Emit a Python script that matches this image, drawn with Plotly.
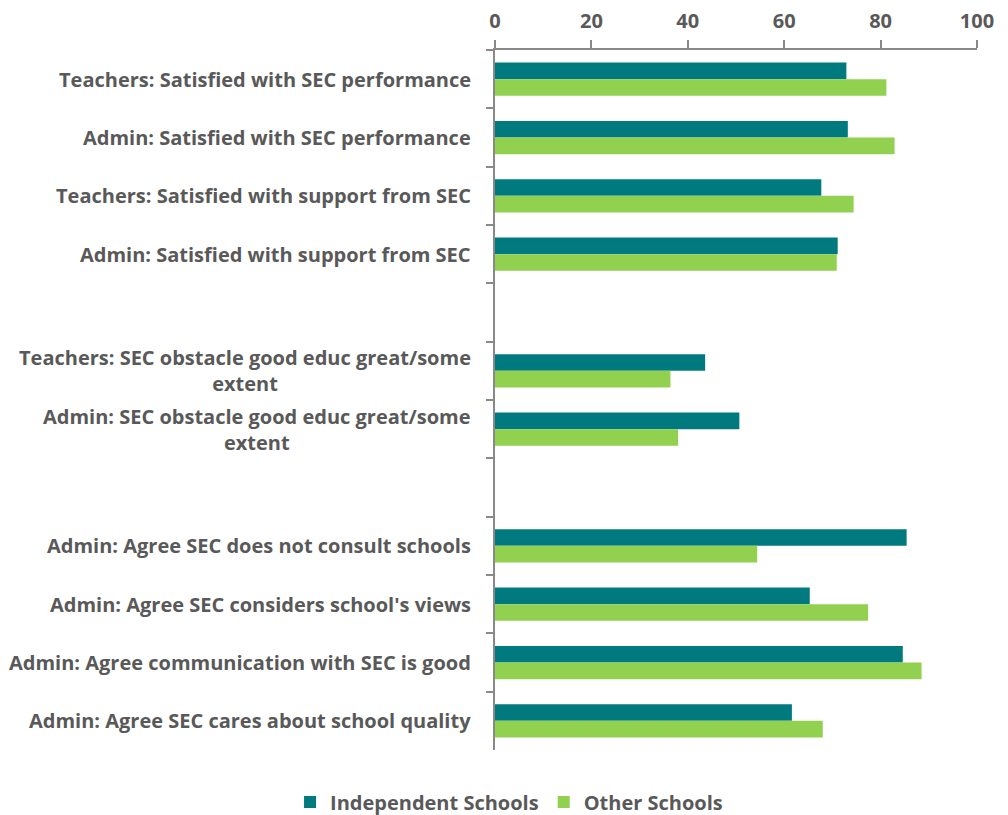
import plotly.graph_objects as go

# Survey items (blank entries separate the three groups of questions)
categories = [
    "Teachers: Satisfied with SEC performance",
    "Admin: Satisfied with SEC performance",
    "Teachers: Satisfied with support from SEC",
    "Admin: Satisfied with support from SEC",
    " ",
    "Teachers: SEC obstacle good educ great/some<br>extent",
    "Admin: SEC obstacle good educ great/some<br>extent",
    "  ",
    "Admin: Agree SEC does not consult schools",
    "Admin: Agree SEC considers school's views",
    "Admin: Agree communication with SEC is good",
    "Admin: Agree SEC cares about school quality",
]

# Percentages per group (None for the spacer rows)
independent = [72.9, 73.2, 67.7, 71.1, None, 43.6, 50.7, None, 85.4, 65.3, 84.6, 61.6]
other = [81.2, 82.9, 74.4, 70.9, None, 36.4, 38.0, None, 54.4, 77.4, 88.5, 68.0]

x_ticks = [0, 20, 40, 60, 80, 100]

TEAL = "#007A7F"
GREEN = "#92D050"
TEXT = "#595959"
AXIS = "#898989"
FONT = "Open Sans"

fig = go.Figure()
fig.add_trace(go.Bar(
    name="Independent Schools", y=categories, x=independent, orientation="h",
    marker=dict(color=TEAL, line=dict(width=0)),
))
fig.add_trace(go.Bar(
    name="Other Schools", y=categories, x=other, orientation="h",
    marker=dict(color=GREEN, line=dict(width=0)),
))

# Category labels drawn as right-aligned blocks with centred lines
for cat in categories:
    if cat.strip():
        fig.add_annotation(
            x=0, xref="paper", y=cat, yref="y",
            xanchor="right", yanchor="middle", xshift=-22,
            text=cat, showarrow=False, align="center",
            font=dict(family=FONT, size=20, color=TEXT, weight="bold"),
        )

fig.update_layout(
    width=1008, height=815,
    margin=dict(l=495, r=31, t=50, b=65),
    paper_bgcolor="white", plot_bgcolor="white",
    barmode="group", bargap=0.43, bargroupgap=0,
    font=dict(family=FONT, color=TEXT, weight="bold"),
    legend=dict(
        orientation="h", xref="container", yref="container",
        x=0.505, y=0.016, xanchor="center", yanchor="middle",
        font=dict(family=FONT, size=20, color=TEXT, weight="bold"),
        itemwidth=30, traceorder="normal",
    ),
    showlegend=True,
)

fig.update_xaxes(
    side="top", range=[0, 100], tickvals=x_ticks,
    ticks="outside", ticklen=8, tickcolor=AXIS, tickwidth=2,
    ticklabelstandoff=4, automargin=False,
    showline=True, linecolor=AXIS, linewidth=2,
    showgrid=False, zeroline=False,
    tickfont=dict(family=FONT, size=20, color=TEXT, weight="bold"),
)
fig.update_yaxes(
    type="category", categoryorder="array", categoryarray=categories,
    autorange="reversed", showticklabels=False,
    ticks="outside", tickson="boundaries", ticklen=7, tickcolor=AXIS, tickwidth=2,
    showline=True, linecolor=AXIS, linewidth=2,
    showgrid=False, zeroline=False,
)

fig.write_html("out.html")
